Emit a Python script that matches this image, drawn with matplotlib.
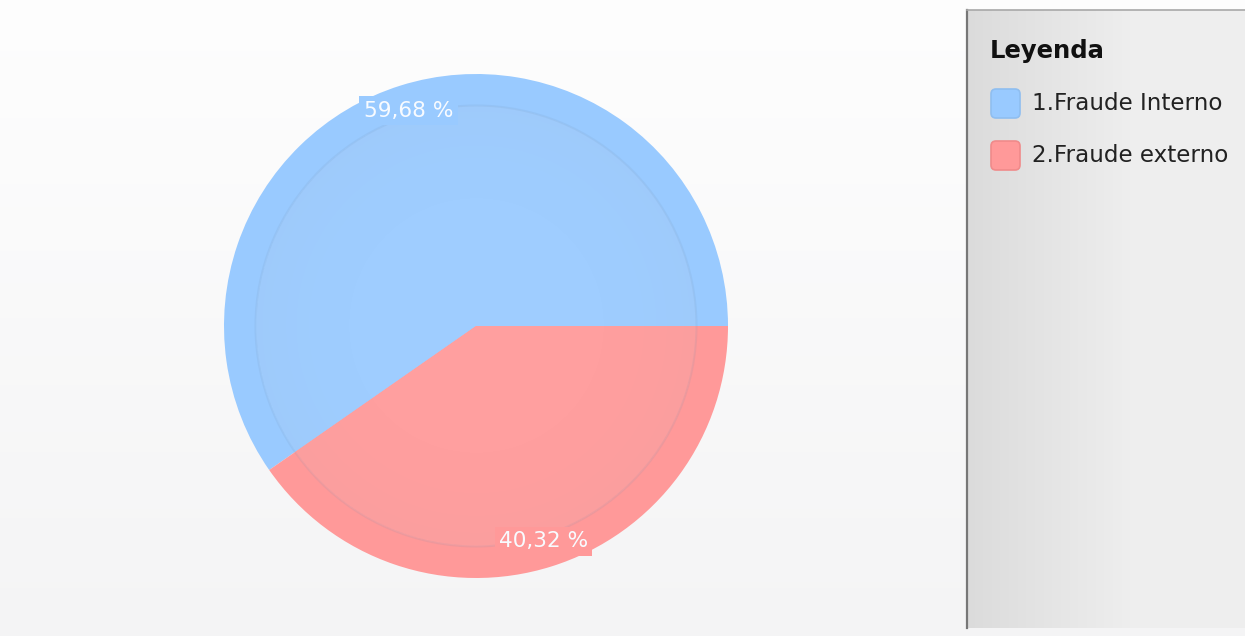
import numpy as np
import matplotlib.pyplot as plt
from matplotlib.patches import FancyBboxPatch, Circle

categorias = ['1.Fraude Interno', '2.Fraude externo']
porcentajes = [59.68, 40.32]
colores = ['#99caff', '#ff9999']
colores_int = ['#9fcdff', '#ff9f9f']
bordes_leyenda = ['#8fbef0', '#f08a8a']
titulo_leyenda = 'Leyenda'

W, H = 1245, 636
fig = plt.figure(figsize=(W / 100, H / 100), dpi=100)

# fondo y panel de leyenda en coordenadas de pixel
bg = fig.add_axes([0, 0, 1, 1])
bg.axis('off')
t = np.linspace(0, 1, 200).reshape(-1, 1, 1)
arriba = np.array([0.995, 0.995, 0.995])
abajo = np.array([0.958, 0.958, 0.962])
bg.imshow(arriba + (abajo - arriba) * t, extent=[0, W, H, 0], aspect='auto')

s = np.clip(np.linspace(0, 1, 300) / 0.6, 0, 1).reshape(1, -1, 1)
izq = np.array([0.86, 0.86, 0.86])
der = np.array([0.935, 0.935, 0.935])
bg.imshow(izq + (der - izq) * s, extent=[968, W, 628, 10], aspect='auto')
bg.plot([967, 967], [10, 628], color='#777777', lw=1.6)
bg.plot([967, W], [10, 10], color='#a8a8a8', lw=1.2)

bg.text(990, 51, titulo_leyenda, fontsize=17.5, fontweight='bold', va='center',
        color='#111111')
for i, (lab, c, ec) in enumerate(zip(categorias, colores, bordes_leyenda)):
    y = 103 + i * 52
    bg.add_patch(FancyBboxPatch((991, y - 14), 29, 29,
                                boxstyle='round,pad=0,rounding_size=5',
                                fc=c, ec=ec, lw=1.2))
    bg.text(1032, y + 1, lab, fontsize=16.6, va='center', color='#222222')
bg.set_xlim(0, W)
bg.set_ylim(H, 0)

# pastel
ax = fig.add_axes([224 / W, 58 / H, 504 / W, 504 / H])
wedges, textos, porcent = ax.pie(
    porcentajes, colors=colores, radius=1, startangle=0, counterclock=True,
    wedgeprops=dict(linewidth=0),
    autopct=lambda p: f'{p:.2f} %'.replace('.', ','), pctdistance=0.895,
    textprops=dict(color='#f8fbff', fontsize=15.6))
ax.pie(porcentajes, colors=colores_int, radius=0.875, startangle=0,
       counterclock=True, wedgeprops=dict(linewidth=0))

# sombreado radial del disco interior
n = 400
xx, yy = np.meshgrid(np.linspace(-1, 1, n), np.linspace(-1, 1, n))
rr = np.sqrt(xx ** 2 + yy ** 2)
sombra = np.zeros((n, n, 4))
sombra[..., :3] = 0.55
sombra[..., 3] = np.where(rr <= 1, 0.035 * rr ** 4, 0)
im = ax.imshow(sombra, extent=[-0.875, 0.875, -0.875, 0.875], zorder=2)
im.set_clip_path(Circle((0, 0), 0.875, transform=ax.transData))
ax.add_patch(Circle((0, 0), 0.875, fill=False, ec='#7090b0', alpha=0.12,
                    lw=1.5, zorder=2))

for txt, c in zip(porcent, colores):
    txt.set_bbox(dict(boxstyle='square,pad=0.2', fc=c, ec='none'))
    txt.set_zorder(5)

ax.set_xlim(-1, 1)
ax.set_ylim(-1, 1)
ax.axis('off')

fig.savefig('out.png', dpi=100)
